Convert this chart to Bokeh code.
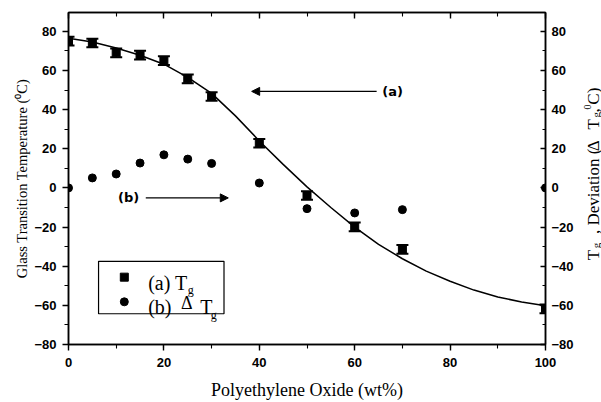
import math
from bokeh.plotting import figure
from bokeh.layouts import row
from bokeh.models import (ColumnDataSource, Range1d, LinearAxis, SingleIntervalTicker,
                          Whisker, TeeHead, Arrow, NormalHead, Label, CustomJSTickFormatter)
from bokeh.embed import file_html
from bokeh.resources import INLINE

# ---- data ----
peo_wt = [0, 5, 10, 15, 20, 25, 30, 40, 50, 60, 70, 100]
tg = [75, 74, 69, 67.8, 65, 55.7, 46.7, 22.8, -3.9, -19.9, -31.4, -61.8]
tg_err = [2.2, 2.2, 2.2, 2.2, 2.2, 2.2, 2.2, 2.2, 2.2, 2.2, 2.2, 2.2]
delta_tg = [0, 5.1, 7.1, 12.7, 16.9, 14.7, 12.5, 2.5, -10.6, -12.8, -11.1, 0]
fit_x = [0, 5, 10, 15, 20, 25, 30, 35, 40, 45, 50, 55, 60, 65, 70, 75, 80, 85, 90, 95, 100]
fit_y = [76.5, 74.5, 71.5, 67.8, 63.2, 56.5, 48.3, 36.8, 24, 12, 0.5, -10, -20, -28.8,
         -36.2, -42.5, -47.7, -52.2, -55.7, -58.3, -60.2]

SERIF = "Liberation Serif"
SANS = "Liberation Sans"

p = figure(width=576, height=402, x_range=Range1d(0, 100), y_range=Range1d(-80, 89.6),
           output_backend="svg", toolbar_location=None,
           min_border_left=68, min_border_right=30, min_border_top=12, min_border_bottom=55)
p.xgrid.visible = False
p.ygrid.visible = False
p.outline_line_color = "black"
p.outline_line_width = 1.5
p.background_fill_color = "white"
p.border_fill_color = "white"


def style_axis(ax, tick_in, tick_out, standoff):
    ax.axis_line_width = 1.5
    ax.axis_line_color = "black"
    ax.major_tick_line_width = 1.4
    ax.minor_tick_line_width = 1.1
    ax.major_tick_line_color = "black"
    ax.minor_tick_line_color = "black"
    ax.major_tick_in = tick_in
    ax.major_tick_out = tick_out
    ax.minor_tick_in = max(tick_in - 2, 0) if tick_in else 0
    ax.minor_tick_out = max(tick_out - 2, 0) if tick_out else 0
    ax.major_label_standoff = standoff
    ax.major_label_text_font = SANS
    ax.major_label_text_font_style = "bold"
    ax.major_label_text_font_size = "13px"
    ax.major_label_text_color = "black"
    ax.axis_label_text_font = SERIF
    ax.axis_label_text_font_style = "normal"
    ax.axis_label_text_color = "black"


xb = p.xaxis[0]
xb.ticker = SingleIntervalTicker(interval=20, num_minor_ticks=2)
style_axis(xb, 0, 6, 7)
xb.axis_label = "Polyethylene Oxide (wt%)"
xb.axis_label_text_font_size = "18px"
xb.axis_label_standoff = 10

yl = p.yaxis[0]
yl.ticker = SingleIntervalTicker(interval=20, num_minor_ticks=2)
style_axis(yl, 0, 6, 6)
yl.axis_label = "Glass Transition Temperature (\u2070C)"
yl.axis_label_text_font_size = "14.5px"
yl.axis_label_standoff = 1

yr = LinearAxis(ticker=SingleIntervalTicker(interval=20, num_minor_ticks=2))
style_axis(yr, 5, 0, 6)
p.add_layout(yr, "right")

xt = LinearAxis(ticker=SingleIntervalTicker(interval=20, num_minor_ticks=2),
                formatter=CustomJSTickFormatter(code="return ''"))
style_axis(xt, 6, 0, 0)
p.add_layout(xt, "above")

# ---- fitted curve ----
p.line(fit_x, fit_y, line_color="black", line_width=1.5)

# ---- Tg with error bars ----
src = ColumnDataSource(dict(
    x=peo_wt, tg=tg,
    upper=[t + e for t, e in zip(tg, tg_err)],
    lower=[t - e for t, e in zip(tg, tg_err)],
))
p.add_layout(Whisker(source=src, base="x", upper="upper", lower="lower",
                     line_color="black", line_width=1.5,
                     upper_head=TeeHead(size=12, line_width=2, line_color="black"),
                     lower_head=TeeHead(size=12, line_width=2, line_color="black")))
p.scatter("x", "tg", source=src, marker="square", size=8, color="black")

# ---- deviation ----
p.scatter(peo_wt, delta_tg, marker="circle", size=8, color="black")

# ---- annotations (a) / (b) ----
p.add_layout(Arrow(x_start=64.6, y_start=49.3, x_end=38.4, y_end=49.3, line_width=1.3,
                   end=NormalHead(size=8, fill_color="black", line_color="black")))
p.add_layout(Label(x=65.8, y=49.3, text="(a)", text_baseline="middle", text_color="black",
                   text_font="DejaVu Sans", text_font_style="bold", text_font_size="13px"))
p.add_layout(Arrow(x_start=16.2, y_start=-5.1, x_end=33.5, y_end=-5.1, line_width=1.3,
                   end=NormalHead(size=8, fill_color="black", line_color="black")))
p.add_layout(Label(x=10.4, y=-5.1, text="(b)", text_baseline="middle", text_color="black",
                   text_font="DejaVu Sans", text_font_style="bold", text_font_size="13px"))

# ---- legend box (drawn by hand) ----
p.quad(left=[6.3], right=[32.6], bottom=[-64.3], top=[-37.5],
       fill_color=None, line_color="black", line_width=1.2)
p.scatter([11.7], [-45.6], marker="square", size=8, color="black")
p.scatter([11.7], [-58.2], marker="circle", size=8, color="black")


def lab(fig, x, y, t, size, angle=0.0):
    fig.add_layout(Label(x=x, y=y, text=t, text_font=SERIF, text_font_size=size,
                         text_baseline="alphabetic", text_align="left", angle=angle,
                         text_color="black"))


lab(p, 16.7, -48.6, "(a) T", "20px")
lab(p, 25.0, -52.0, "g", "12px")
lab(p, 16.7, -60.8, "(b)", "20px")
lab(p, 23.6, -58.8, "\u0394", "18px")
lab(p, 27.6, -60.8, "T", "20px")
lab(p, 29.8, -64.8, "g", "12px")

# ---- right-hand axis title, drawn in a narrow strip whose frame matches the plot frame ----
# (y range given so that one unit = one pixel from the top of the picture)
q = figure(width=25, height=402, x_range=Range1d(0, 25), y_range=Range1d(347, 12),
           output_backend="svg", toolbar_location=None,
           min_border_left=0, min_border_right=0, min_border_top=12, min_border_bottom=55,
           x_axis_location=None, y_axis_location=None)
q.outline_line_color = None
q.xgrid.visible = False
q.ygrid.visible = False
q.background_fill_color = "white"
q.border_fill_color = "white"

A = math.pi / 2
lab(q, 17, 262, "T", "17px", A)
lab(q, 19, 250, "g", "11px", A)
lab(q, 17, 235.5, ", Deviation (", "17px", A)
lab(q, 17, 152, "\u0394", "17px", A)
lab(q, 17, 130, "T", "17px", A)
lab(q, 19, 118, "g", "11px", A)
lab(q, 17, 113, ",", "17px", A)
lab(q, 11, 110, "0", "10px", A)
lab(q, 17, 105, "C)", "17px", A)

open("out.html", "w").write(file_html(row(p, q), INLINE))
